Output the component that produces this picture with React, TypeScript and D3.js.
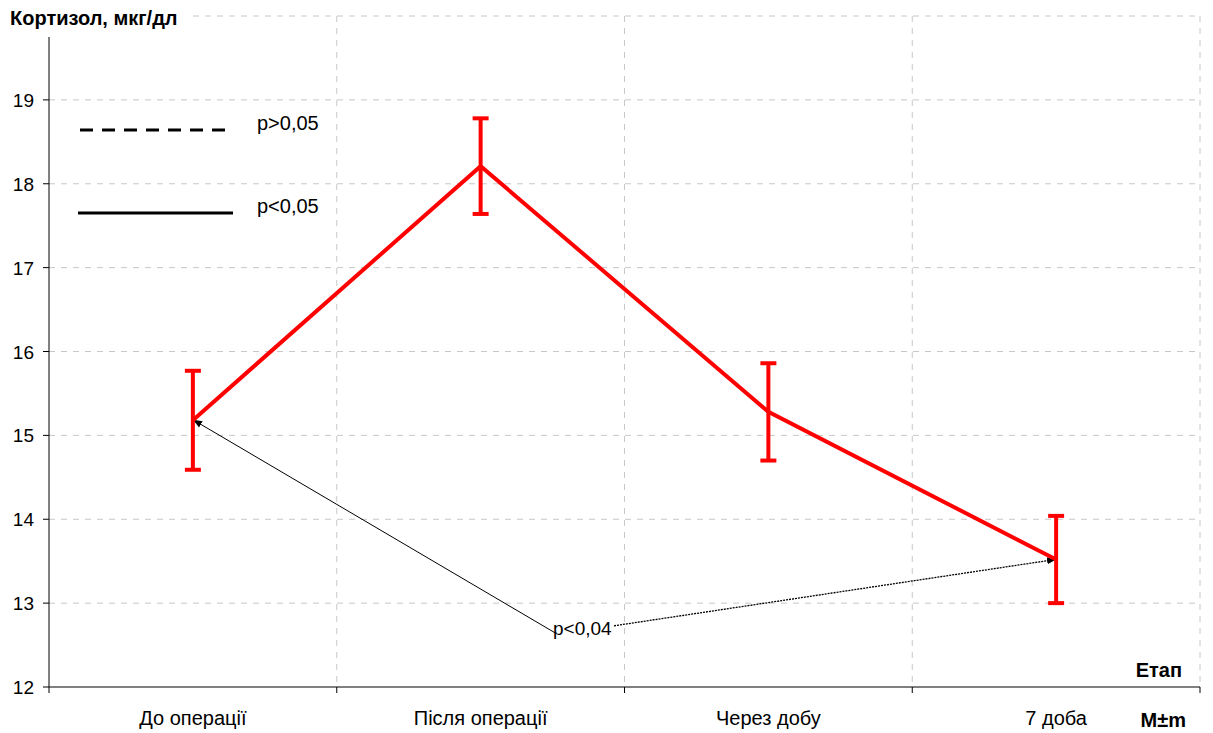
import React from "react";
import * as d3 from "d3";

const categories = ["До операції", "Після операції", "Через добу", "7 доба"];
const means = [15.18, 18.21, 15.28, 13.52];
const errors = [0.59, 0.57, 0.58, 0.52];
const yTicks = [12, 13, 14, 15, 16, 17, 18, 19];
const legendItems = [
  { label: "p>0,05", dashed: true },
  { label: "p<0,05", dashed: false },
];
const annotation = { label: "p<0,04", from: 0, to: 3, value: 12.67 };

const W = 1213;
const H = 733;
const M = { left: 49, right: 13, top: 16, bottom: 46 };
const FONT = "Liberation Sans, Arial, sans-serif";

export default function App() {
  const x = d3
    .scaleBand<string>()
    .domain(categories)
    .range([M.left, W - M.right])
    .paddingInner(0)
    .paddingOuter(0);
  const y = d3.scaleLinear().domain([12, 20]).range([H - M.bottom, M.top]);
  const cx = (i: number) => (x(categories[i]) as number) + x.bandwidth() / 2;
  const line = d3
    .line<number>()
    .x((_, i) => cx(i))
    .y((d) => y(d));
  const boundaries = categories.map((c) => (x(c) as number) + x.bandwidth());
  const x0 = M.left;
  const x1 = W - M.right;
  const yB = y(12);

  const ay = y(annotation.value);
  const leftTipX = cx(annotation.from);
  const rightTipX = cx(annotation.to);
  const textX = 553;

  return (
    <svg width={W} height={H} style={{ position: "absolute", left: 0, top: 0, fontFamily: FONT }}>
      <defs>
        <marker id="arr" viewBox="0 0 10 10" refX="9" refY="5" markerWidth="9" markerHeight="9" orient="auto-start-reverse" markerUnits="userSpaceOnUse">
          <path d="M0,1 L10,5 L0,9 z" fill="#000" />
        </marker>
      </defs>
      <rect width={W} height={H} fill="#fff" />
      {/* grid */}
      {[...yTicks.slice(1), 20].map((t) => (
        <line key={"h" + t} x1={x0} x2={x1} y1={y(t)} y2={y(t)} stroke="#c8c8c8" strokeWidth={1} strokeDasharray="6,6" />
      ))}
      {boundaries.map((b, i) => (
        <line key={"v" + i} x1={b} x2={b} y1={y(20)} y2={yB} stroke="#c8c8c8" strokeWidth={1} strokeDasharray="6,6" />
      ))}
      {/* axes */}
      <line x1={x0} x2={x0} y1={y(20)} y2={yB} stroke="#000" strokeWidth={1} />
      <line x1={x0} x2={x1} y1={yB} y2={yB} stroke="#000" strokeWidth={1} />
      {yTicks.map((t) => (
        <g key={"yt" + t}>
          <line x1={x0 - 6} x2={x0} y1={y(t)} y2={y(t)} stroke="#000" />
          <text x={34} y={y(t) + 7} textAnchor="end" fontSize={19}>
            {t}
          </text>
        </g>
      ))}
      {[x0, ...boundaries].map((b, i) => (
        <line key={"xt" + i} x1={b} x2={b} y1={yB} y2={yB + 6} stroke="#000" />
      ))}
      {categories.map((c, i) => (
        <text key={c} x={cx(i)} y={725} textAnchor="middle" fontSize={20}>
          {c}
        </text>
      ))}
      {/* title box */}
      <rect x={0} y={0} width={188} height={37} fill="#fff" />
      <text x={10} y={25} fontSize={20} fontWeight="bold">
        Кортизол, мкг/дл
      </text>
      <text x={1182} y={677} textAnchor="end" fontSize={20} fontWeight="bold">
        Етап
      </text>
      <text x={1186} y={727} textAnchor="end" fontSize={20} fontWeight="bold">
        M±m
      </text>
      {/* legend */}
      {legendItems.map((it, i) => (
        <g key={it.label}>
          <line
            x1={it.dashed ? 80 : 78}
            x2={it.dashed ? 225 : 233}
            y1={130 + i * 83}
            y2={130 + i * 83}
            stroke="#000"
            strokeWidth={3}
            strokeDasharray={it.dashed ? "13,9" : undefined}
          />
          <text x={257} y={130 + i * 83} fontSize={20}>
            {it.label}
          </text>
        </g>
      ))}
      {/* annotation arrows */}
      <line x1={textX + 2} y1={ay + 2} x2={leftTipX + 1} y2={y(means[annotation.from])} stroke="#000" strokeWidth={1} markerEnd="url(#arr)" />
      <line x1={textX + 61} y1={ay - 5} x2={rightTipX - 1} y2={y(means[annotation.to])} stroke="#000" strokeWidth={1.3} strokeDasharray="2,1" markerEnd="url(#arr)" />
      <text x={textX} y={ay + 4} fontSize={19}>
        {annotation.label}
      </text>
      {/* series */}
      <path d={line(means) as string} fill="none" stroke="#ff0000" strokeWidth={4} strokeLinejoin="miter" />
      {means.map((m, i) => (
        <g key={"e" + i} stroke="#ff0000" strokeWidth={4}>
          <line x1={cx(i)} x2={cx(i)} y1={y(m - errors[i])} y2={y(m + errors[i])} />
          <line x1={cx(i) - 8} x2={cx(i) + 8} y1={y(m - errors[i])} y2={y(m - errors[i])} />
          <line x1={cx(i) - 8} x2={cx(i) + 8} y1={y(m + errors[i])} y2={y(m + errors[i])} />
        </g>
      ))}
    </svg>
  );
}
